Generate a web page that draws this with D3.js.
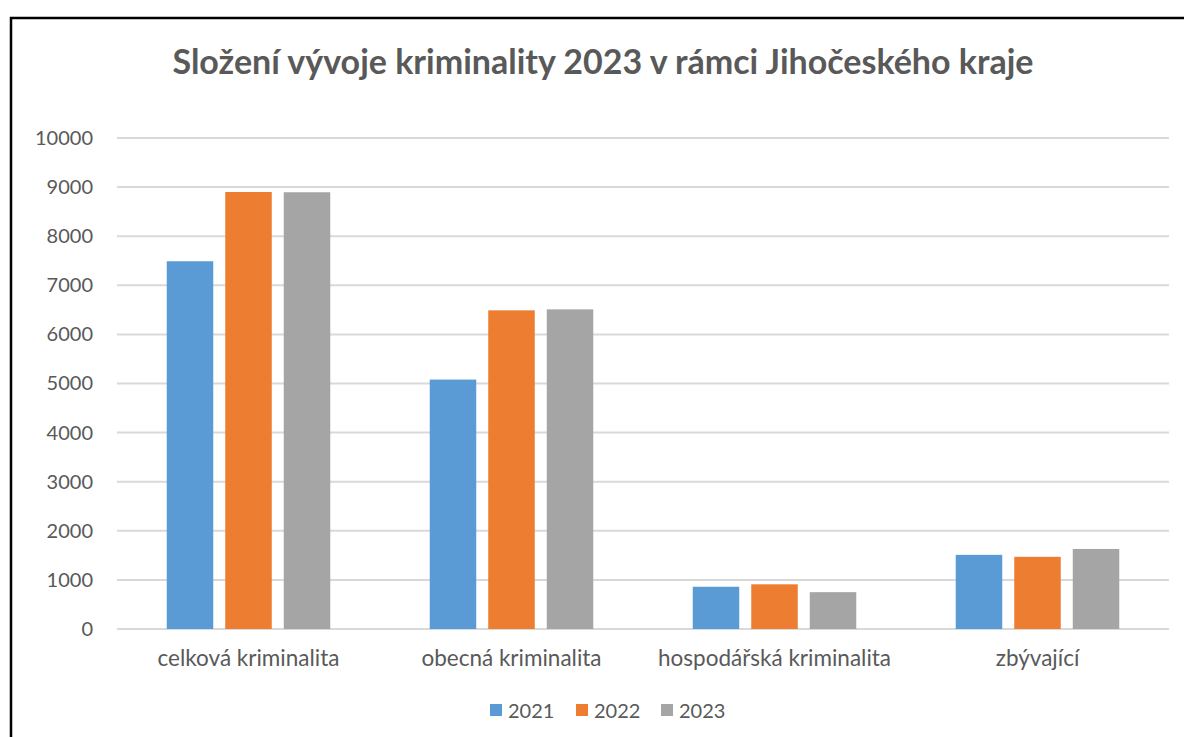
<!DOCTYPE html>
<html>
<head>
<meta charset="utf-8">
<script src="https://cdn.jsdelivr.net/npm/d3@7"></script>
<style>
  body { margin: 0; background: #fff; }
  svg { display: block; }
  text { font-family: Lato, "Open Sans", sans-serif; fill: #595959; }
</style>
</head>
<body>
<svg id="chart" width="1184" height="737"></svg>
<script>
const categories = ["celková kriminalita", "obecná kriminalita", "hospodářská kriminalita", "zbývající"]
const years = ["2021", "2022", "2023"]
const values2021 = [7490, 5080, 860, 1510]
const values2022 = [8900, 6490, 910, 1470]
const values2023 = [8895, 6510, 750, 1630]
const yTicks = [0, 1000, 2000, 3000, 4000, 5000, 6000, 7000, 8000, 9000, 10000]
const colors = ["#5B9BD5", "#ED7D31", "#A5A5A5"]

const series = [values2021, values2022, values2023]

const svg = d3.select("#chart")

// frame (only the top and left edges show in the picture)
svg.append("path")
    .attr("d", "M11,737 V18 H1184")
    .attr("fill", "none")
    .attr("stroke", "#000")
    .attr("stroke-width", 2.5)

svg.append("text")
    .attr("x", 603)
    .attr("y", 74)
    .attr("text-anchor", "middle")
    .style("font-size", "34px")
    .style("font-weight", "bold")
    .text("Složení vývoje kriminality 2023 v rámci Jihočeského kraje")

const margin = {left: 117, right: 1169, top: 138, bottom: 629}

const x = d3.scaleBand()
    .domain(categories)
    .range([margin.left, margin.right])

const xInner = d3.scaleBand()
    .domain(years)
    .range([0, x.bandwidth()])
    .paddingInner(0.205)
    .paddingOuter(0.85)

const y = d3.scaleLinear()
    .domain([0, 10000])
    .range([margin.bottom, margin.top])

// gridlines
svg.append("g")
    .selectAll("line")
    .data(yTicks)
    .join("line")
    .attr("x1", margin.left)
    .attr("x2", margin.right)
    .attr("y1", d => y(d))
    .attr("y2", d => y(d))
    .attr("stroke", "#D9D9D9")
    .attr("stroke-width", 2)

// y axis labels
const yAxis = svg.append("g")
    .attr("transform", `translate(${margin.left - 24},0)`)
    .call(d3.axisLeft(y).tickValues(yTicks).tickFormat(d3.format("d")).tickSize(0).tickPadding(0))
yAxis.select(".domain").remove()
yAxis.selectAll("text")
    .style("font-size", "20px")
    .style("font-family", "Lato, 'Open Sans', sans-serif")
    .attr("fill", "#595959")

// bars
const groups = svg.append("g")
    .selectAll("g")
    .data(categories)
    .join("g")
    .attr("transform", d => `translate(${x(d)},0)`)

groups.selectAll("rect")
    .data((c, i) => years.map((yr, j) => ({year: yr, value: series[j][i], color: colors[j]})))
    .join("rect")
    .attr("x", d => xInner(d.year))
    .attr("width", xInner.bandwidth())
    .attr("y", d => y(d.value))
    .attr("height", d => y(0) - y(d.value))
    .attr("fill", d => d.color)

// category labels
const xAxis = svg.append("g")
    .attr("transform", `translate(0,${margin.bottom + 21})`)
    .call(d3.axisBottom(x).tickSize(0).tickPadding(0))
xAxis.select(".domain").remove()
xAxis.selectAll("text")
    .style("font-size", "22.5px")
    .style("font-family", "Lato, 'Open Sans', sans-serif")
    .attr("fill", "#595959")

// legend
const legendX = [490, 576, 661]
const legend = svg.append("g")
    .selectAll("g")
    .data(years)
    .join("g")
    .attr("transform", (d, i) => `translate(${legendX[i]},0)`)

legend.append("rect")
    .attr("x", 0)
    .attr("y", 704)
    .attr("width", 12)
    .attr("height", 12)
    .attr("fill", (d, i) => colors[i])

legend.append("text")
    .attr("x", 18)
    .attr("y", 718)
    .style("font-size", "20px")
    .text(d => d)
</script>
</body>
</html>
